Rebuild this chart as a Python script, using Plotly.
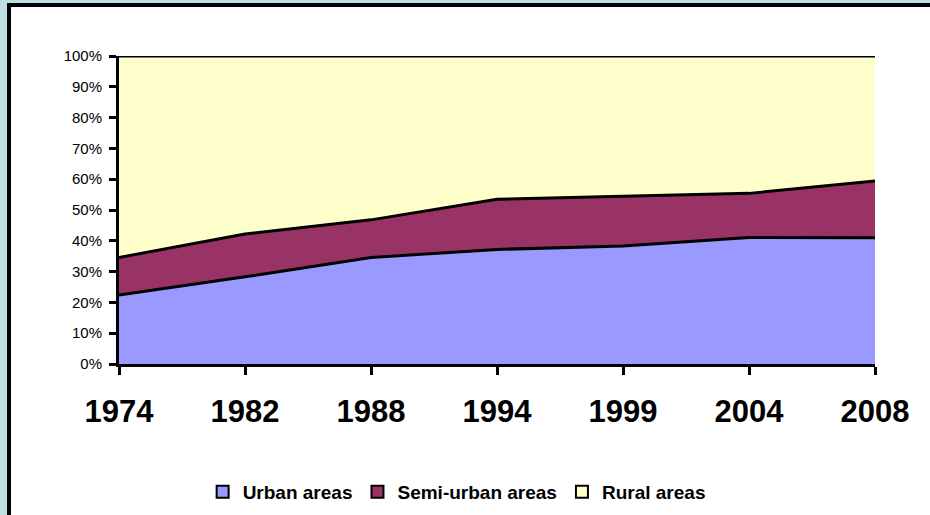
import plotly.graph_objects as go

YEARS = ["1974", "1982", "1988", "1994", "1999", "2004", "2008"]
URBAN = [22.4, 28.3, 34.6, 37.2, 38.3, 41.1, 41.0]
SEMI_URBAN = [12.2, 13.9, 12.2, 16.3, 16.2, 14.3, 18.4]
RURAL = [65.4, 57.8, 53.2, 46.5, 45.5, 44.6, 40.6]

SERIES = [("Urban areas", URBAN, "#9999FF"),
          ("Semi-urban areas", SEMI_URBAN, "#993366"),
          ("Rural areas", RURAL, "#FFFFCC")]

FONT = "Arial, Liberation Sans, sans-serif"

fig = go.Figure()
for name, vals, col in SERIES:
    fig.add_trace(go.Scatter(
        x=YEARS, y=vals, name=name, mode="lines", stackgroup="one",
        groupnorm="percent", fillcolor=col, showlegend=False,
        line=dict(color="black", width=3)))
# legend-only square swatches, like the spreadsheet legend
for name, vals, col in SERIES:
    fig.add_trace(go.Bar(x=[None], y=[None], name=name, marker_color=col,
                         marker_line=dict(color="black", width=2), showlegend=True))

fig.update_layout(
    width=930, height=515,
    margin=dict(l=119, r=55, t=56, b=151, autoexpand=False),
    paper_bgcolor="#BDE1E3", plot_bgcolor="white",
    font=dict(family=FONT, color="black"),
    showlegend=True,
    legend=dict(orientation="h", xref="container", yref="container",
                x=0.491, xanchor="center", y=0.045, yanchor="middle",
                font=dict(size=19, family=FONT, weight="bold"),
                itemwidth=30, traceorder="normal", bgcolor="rgba(0,0,0,0)"),
    shapes=[dict(type="rect", xref="paper", yref="paper",
                 x0=-0.1455, x1=1.2, y0=-0.6, y1=1.1656,
                 fillcolor="white", line=dict(color="black", width=4), layer="below")],
)
fig.update_xaxes(type="category", range=[0, 6], showgrid=False, zeroline=False,
                 showline=True, linecolor="black", linewidth=3,
                 ticks="outside", ticklen=8, tickwidth=3, tickcolor="black",
                 tickfont=dict(size=31, family=FONT, weight="bold"),
                 ticklabelstandoff=10, automargin=False)
fig.update_yaxes(range=[0, 100], dtick=10, ticksuffix="%", showgrid=False, zeroline=False,
                 showline=True, linecolor="black", linewidth=3,
                 ticks="outside", ticklen=7, tickwidth=3, tickcolor="black",
                 tickfont=dict(size=15, family=FONT), ticklabelstandoff=4, automargin=False)

fig.write_html("out.html", config={"displayModeBar": False},
               post_script="document.body.style.margin='0';")
